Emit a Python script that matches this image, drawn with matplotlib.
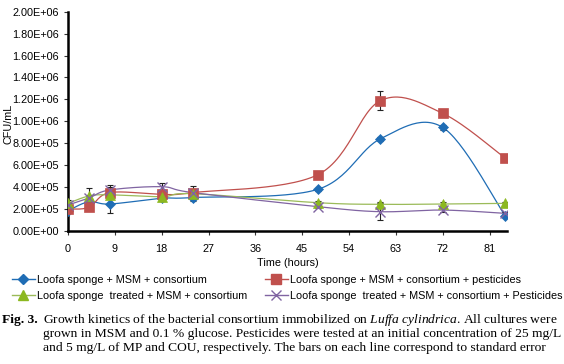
import numpy as np
import matplotlib
matplotlib.use("Agg")
import matplotlib.pyplot as plt
from matplotlib.lines import Line2D

# time points (hours)
hours = [0, 4, 8, 18, 24, 48, 60, 72, 84]

# CFU/mL per series
loofa = [1.85e5, 2.67e5, 2.46e5, 2.98e5, 3.05e5, 3.8e5, 8.4e5, 9.45e5, 1.4e5]
loofa_pest = [2.0e5, 2.16e5, 3.5e5, 3.35e5, 3.5e5, 5.13e5, 1.188e6, 1.073e6, 6.65e5]
treated = [2.52e5, 3.19e5, 3.3e5, 3.13e5, 3.4e5, 2.58e5, 2.43e5, 2.46e5, 2.52e5]
treated_pest = [2.37e5, 3.0e5, 3.74e5, 4.04e5, 3.5e5, 2.22e5, 1.76e5, 1.91e5, 1.61e5]

# standard errors (rough reads)
loofa_err = [1.5e4, 2e4, 8.5e4, 2e4, 3e4, 1.5e4, 2e4, 2e4, 1e4]
loofa_pest_err = [1.5e4, 2e4, 5e4, 3e4, 6e4, 1.5e4, 8.5e4, 1.5e4, 1e4]
treated_err = [3e4, 7e4, 4e4, 2e4, 4e4, 1.5e4, 2e4, 1.5e4, 1.5e4]
treated_pest_err = [2e4, 3e4, 4.5e4, 3.6e4, 3e4, 1.5e4, 7.5e4, 1.5e4, 1e4]

labels = ["Loofa sponge + MSM + consortium",
          "Loofa sponge + MSM + consortium + pesticides",
          "Loofa sponge  treated + MSM + consortium",
          "Loofa sponge  treated + MSM + consortium + Pesticides"]

caption = [
    "Growth kinetics of the bacterial consortium immobilized on $\\it{Luffa\\ cylindrica}$. All cultures were",
    "grown in MSM and 0.1 % glucose. Pesticides were tested at an initial concentration of 25 mg/L",
    "and 5 mg/L of MP and COU, respectively. The bars on each line correspond to standard error",
]


def smooth(x, y, n=30):
    # excel-like smoothed line (bezier, tension 1/6)
    x = np.asarray(x, float)
    y = np.asarray(y, float)
    px = np.concatenate([[x[0]], x, [x[-1]]])
    py = np.concatenate([[y[0]], y, [y[-1]]])
    t = np.linspace(0, 1, n)[:, None]
    xs, ys = [], []
    for i in range(1, len(px) - 2):
        p0 = np.array([px[i], py[i]])
        p3 = np.array([px[i + 1], py[i + 1]])
        c1 = p0 + (p3 - np.array([px[i - 1], py[i - 1]])) / 6
        c2 = p3 - (np.array([px[i + 2], py[i + 2]]) - p0) / 6
        pts = ((1 - t) ** 3) * p0 + 3 * ((1 - t) ** 2) * t * c1 + 3 * (1 - t) * t ** 2 * c2 + t ** 3 * p3
        xs.append(pts[:, 0])
        ys.append(pts[:, 1])
    return np.concatenate(xs), np.concatenate(ys)


plt.rcParams['font.family'] = ['Liberation Sans', 'DejaVu Sans']
plt.rcParams['mathtext.fontset'] = 'custom'
plt.rcParams['mathtext.it'] = 'Liberation Serif:italic'
plt.rcParams['mathtext.rm'] = 'Liberation Serif'

fig = plt.figure(figsize=(5.64, 3.64), dpi=100)
ax = fig.add_axes([68 / 564, 1 - 231 / 364, (506.7 - 68) / 564, (231 - 11.7) / 364])

series = [
    (loofa, loofa_err, '#1f6db5', 'D', 5.5, labels[0]),
    (loofa_pest, loofa_pest_err, '#c0504d', 's', 7, labels[1]),
    (treated, treated_err, '#9bbb59', '^', 7, labels[2]),
    (treated_pest, treated_pest_err, '#8064a2', 'x', 7, labels[3]),
]
mcol = {'#9bbb59': '#8cb820'}

handles = []
for vals, err, col, mk, ms, lab in series:
    sx, sy = smooth(hours, vals)
    ax.plot(sx, sy, color=col, lw=0.9, zorder=2)
    ax.errorbar(hours, vals, yerr=err, fmt='none', ecolor='#222222',
                elinewidth=0.8, capsize=2.5, capthick=0.8, zorder=3)
    mc = mcol.get(col, col)
    ax.plot(hours, vals, ls='none', marker=mk, ms=ms, color=mc,
            mec=mc, mew=1.0 if mk == 'x' else 0.5, zorder=4)
    handles.append(Line2D([0], [0], color=col, lw=1, marker=mk, ms=ms,
                          mfc=mc, mec=mc, label=lab))

ax.set_xlim(0, 84.3)
ax.set_ylim(0, 2.0e6)
ax.set_xticks(np.arange(0, 82, 9))
ax.set_yticks(np.arange(0, 2.01e6, 2e5))
ax.set_yticklabels([f"{v:.2E}" for v in np.arange(0, 2.01e6, 2e5)])
ax.tick_params(labelsize=7.8, length=3, width=0.8, color='#333333')
ax.tick_params(axis='x', pad=6)
for s in ['top', 'right']:
    ax.spines[s].set_visible(False)
for s in ['left', 'bottom']:
    ax.spines[s].set_linewidth(1.8)
ax.set_xlabel("Time (hours)", fontsize=7.8, labelpad=3)
fig.text(8 / 564, 1 - 124 / 364, "CFU/mL", fontsize=7.8, rotation=90,
         ha='center', va='center')

# two legend columns: blue / green on the left, red / purple on the right
leg_kw = dict(loc='center left', frameon=False, fontsize=7.8, handlelength=2.1,
              handletextpad=0.2, labelspacing=0.5, borderaxespad=0, borderpad=0)
fig.legend(handles=[handles[0], handles[2]], bbox_to_anchor=(12 / 564, 1 - 288 / 364), **leg_kw)
fig.legend(handles=[handles[1], handles[3]], bbox_to_anchor=(265 / 564, 1 - 288 / 364), **leg_kw)

serif = ['Liberation Serif', 'DejaVu Serif']
fs = 9.7
fig.text(2 / 564, 1 - 320 / 364, "Fig. 3.", family=serif, fontsize=fs,
         fontweight='bold', va='center')
for line, y in zip(caption, [320, 334, 348]):
    fig.text(43 / 564, 1 - y / 364, line, family=serif, fontsize=fs, va='center')

fig.savefig("out.png", dpi=100)
